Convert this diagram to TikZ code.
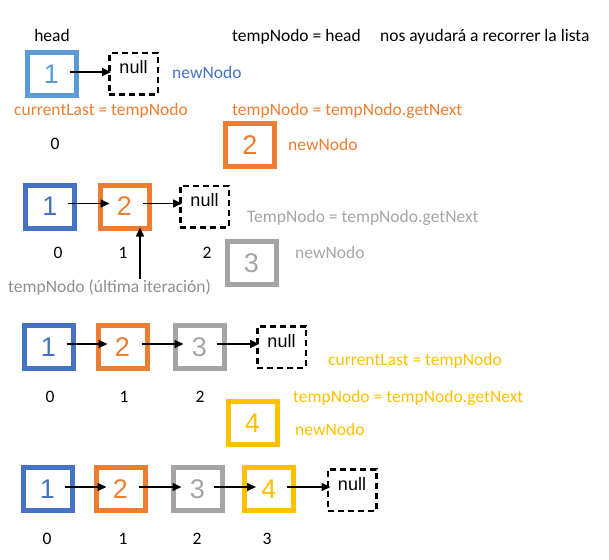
\documentclass[tikz,border=0pt]{standalone}
\usepackage{fontspec}
\setmainfont{Carlito}
\newfontfamily\arialf{Liberation Sans}
\usetikzlibrary{arrows.meta}
\definecolor{lblue}{HTML}{5B9BD5}
\definecolor{dblue}{HTML}{4472C4}
\definecolor{orng}{HTML}{ED7D31}
\definecolor{gry}{HTML}{A5A5A5}
\definecolor{yel}{HTML}{FFC000}
\definecolor{gtxt}{HTML}{8F8F8F}
\begin{document}
\begin{tikzpicture}[x=1pt,y=-1pt,
  box/.style={draw, line width=5pt, minimum width=49pt, minimum height=43pt, inner sep=0pt, font=\arialf\fontsize{27}{30}\selectfont},
  nullbox/.style={draw=black, dash pattern=on 6pt off 4pt, line width=2.5pt, minimum width=48.5pt, minimum height=41.5pt, inner sep=0pt, text height=13pt, text depth=13pt, font=\arialf\fontsize{18}{20}\selectfont},
  txt/.style={anchor=base west, inner sep=0pt, font=\fontsize{17.5}{20}\selectfont},
  idx/.style={anchor=base, inner sep=0pt, font=\fontsize{17.5}{20}\selectfont},
  arr/.style={-{Triangle[length=9pt,width=8pt]}, line width=1.5pt}]
\useasboundingbox (0,0) rectangle (609,559);

% ---- row 0
\node[txt, anchor=base] (head) at (52,42) {head};
\node[txt] (t0a) at (232,42) {tempNodo = head};
\node[txt] (t0b) at (380,42) {nos ayudará a recorrer la lista};
\node[box, draw=lblue, text=lblue] (a1) at (51.5,74) {1};
\node[nullbox] (an) at (133.5,74) {null};
\node[txt, text=dblue] (nn0) at (172,79) {newNodo};
\node[txt, text=orng] (cl0) at (14,115) {currentLast = tempNodo};
\node[txt, text=orng] (tg0) at (232,115) {tempNodo = tempNodo.getNext};
\node[idx] (i00) at (55,149) {0};
\node[box, draw=orng, text=orng] (s2) at (250,145) {2};
\node[txt, text=orng] (nn1) at (288,150) {newNodo};
\draw[arr] ([xshift=-9pt,yshift=2pt]a1.east) -- ([xshift=3pt,yshift=2pt]an.west);

% ---- row 1
\node[box, draw=dblue, text=dblue] (b11) at (50,206.5) {1};
\node[box, draw=orng, text=orng] (b12) at (124.5,206.5) {2};
\node[nullbox] (bn) at (204.5,206.5) {null};
\draw[arr] ([xshift=-9pt,yshift=3pt]b11.east) -- ([xshift=12pt,yshift=3pt]b12.west);
\draw[arr] ([xshift=-9pt,yshift=3pt]b12.east) -- ([xshift=3pt,yshift=3pt]bn.west);
\node[idx] (i10) at (58,258) {0};
\node[idx] (i11) at (123,258) {1};
\node[idx] (i12) at (207,258) {2};
\node[txt, text=gtxt] (tmpl) at (8,292) {tempNodo (última iteración)};
\coordinate (uptip) at ([xshift=15.5pt,yshift=3pt]b12.south);
\draw[arr] (uptip |- tmpl.north) -- (uptip);
\node[txt, text=gry] (tg1) at (247,222) {TempNodo = tempNodo.getNext};
\node[box, draw=gry, text=gry] (s3) at (251.5,263) {3};
\node[txt, text=gry] (nn2) at (295,258) {newNodo};

% ---- row 2
\node[box, draw=dblue, text=dblue] (c1) at (48.5,347) {1};
\node[box, draw=orng, text=orng] (c2) at (122.5,347) {2};
\node[box, draw=gry, text=gry] (c3) at (199.5,347) {3};
\node[nullbox] (cn) at (281.5,347) {null};
\draw[arr] ([xshift=-9pt,yshift=3pt]c1.east) -- ([xshift=12pt,yshift=3pt]c2.west);
\draw[arr] ([xshift=-8pt,yshift=3pt]c2.east) -- ([xshift=11pt,yshift=3pt]c3.west);
\draw[arr] ([xshift=-10pt,yshift=3pt]c3.east) -- ([xshift=3pt,yshift=3pt]cn.west);
\node[idx] (i20) at (50,402) {0};
\node[idx] (i21) at (124,402) {1};
\node[idx] (i22) at (200,402) {2};
\node[txt, text=yel] (cl2) at (328,365) {currentLast = tempNodo};
\node[txt, text=yel] (tg2) at (293,402) {tempNodo = tempNodo.getNext};
\node[box, draw=yel, text=yel] (s4) at (252.5,423) {4};
\node[txt, text=yel] (nn3) at (295,435) {newNodo};

% ---- row 3
\node[box, draw=dblue, text=dblue] (d1) at (47.5,489) {1};
\node[box, draw=orng, text=orng] (d2) at (120.5,489) {2};
\node[box, draw=gry, text=gry] (d3) at (197.5,489) {3};
\node[box, draw=yel, text=yel] (d4) at (269,489) {4};
\node[nullbox] (dn) at (352,490) {null};
\draw[arr] ([xshift=-10pt,yshift=2pt]d1.east) -- ([xshift=13pt,yshift=2pt]d2.west);
\draw[arr] ([xshift=-9pt,yshift=2pt]d2.east) -- ([xshift=11pt,yshift=2pt]d3.west);
\draw[arr] ([xshift=-11pt,yshift=2pt]d3.east) -- ([xshift=14pt,yshift=2pt]d4.west);
\draw[arr] ([xshift=-9pt,yshift=2pt]d4.east) -- ([xshift=4pt,yshift=3pt]dn.west);
\node[idx] (i30) at (47,544) {0};
\node[idx] (i31) at (123,544) {1};
\node[idx] (i32) at (197,544) {2};
\node[idx] (i33) at (267,544) {3};
\end{tikzpicture}
\end{document}
